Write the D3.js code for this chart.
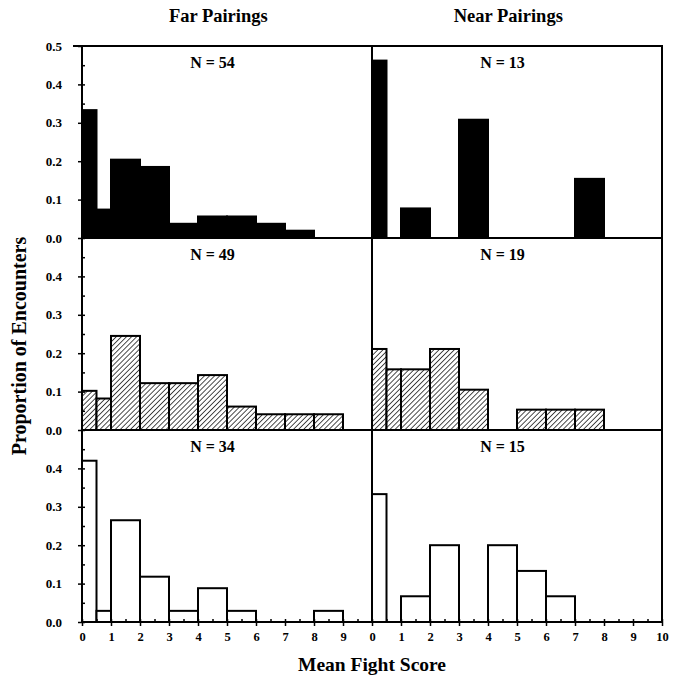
<!DOCTYPE html>
<html>
<head>
<meta charset="utf-8">
<script src="https://cdn.jsdelivr.net/npm/d3@7"></script>
<style>
  body { margin: 0; background: #fff; }
  svg text { font-family: "Liberation Serif", "Times New Roman", serif; font-weight: bold; fill: #000; }
  .axis path.domain { display: none; }
  .axis line { stroke: #000; stroke-width: 1.5; }
</style>
</head>
<body>
<div id="chart"></div>
<script>
// bin edges for Mean Fight Score (first unit split in halves)
const binEdges = [0, 0.5, 1, 2, 3, 4, 5, 6, 7, 8, 9, 10];

const columns = ["Far Pairings", "Near Pairings"];
const sampleSizes = [[54, 13], [49, 19], [34, 15]];

// proportion of encounters per bin
const farRow1  = [0.333, 0.074, 0.204, 0.185, 0.037, 0.056, 0.056, 0.037, 0.019, 0, 0];
const nearRow1 = [0.462, 0, 0.077, 0, 0.308, 0, 0, 0, 0.154, 0, 0];
const farRow2  = [0.102, 0.082, 0.245, 0.122, 0.122, 0.143, 0.061, 0.041, 0.041, 0.041, 0];
const nearRow2 = [0.211, 0.158, 0.158, 0.211, 0.105, 0, 0.053, 0.053, 0.053, 0, 0];
const farRow3  = [0.42, 0.029, 0.265, 0.118, 0.029, 0.088, 0.029, 0, 0, 0.029, 0];
const nearRow3 = [0.333, 0, 0.067, 0.2, 0, 0.2, 0.133, 0.067, 0, 0, 0];

const rowValues = [[farRow1, nearRow1], [farRow2, nearRow2], [farRow3, nearRow3]];
const rowFills = ["#000", "url(#hatch)", "#fff"];

const yTicksTop = [0, 0.1, 0.2, 0.3, 0.4, 0.5];
const yTicks = [0, 0.1, 0.2, 0.3, 0.4];
const xTicksFar = [0, 1, 2, 3, 4, 5, 6, 7, 8, 9];
const xTicksNear = [0, 1, 2, 3, 4, 5, 6, 7, 8, 9, 10];

const W = 676, H = 679;
const marginLeft = 82, marginTop = 46;
const panelW = 290, panelH = 192;

const svg = d3.select("#chart").append("svg")
    .attr("width", W)
    .attr("height", H);

const defs = svg.append("defs");
const pat = defs.append("pattern")
    .attr("id", "hatch")
    .attr("patternUnits", "userSpaceOnUse")
    .attr("width", 3.6)
    .attr("height", 3.6)
    .attr("patternTransform", "rotate(45)");
pat.append("rect").attr("width", 3.6).attr("height", 3.6).attr("fill", "#fff");
pat.append("line")
    .attr("x1", 0).attr("y1", 0).attr("x2", 0).attr("y2", 3.6)
    .attr("stroke", "#000").attr("stroke-width", 1.4);

const x = d3.scaleLinear().domain([0, 10]).range([0, panelW]);
const y = d3.scaleLinear().domain([0, 0.5]).range([panelH, 0]);

// column titles
columns.forEach((t, c) => {
    svg.append("text")
        .attr("x", marginLeft + c * panelW + x(4.7))
        .attr("y", 22)
        .attr("text-anchor", "middle")
        .style("font-size", "18.5px")
        .text(t);
});

rowValues.forEach((pair, r) => {
    pair.forEach((vals, c) => {
        const g = svg.append("g")
            .attr("transform", "translate(" + (marginLeft + c * panelW) + "," + (marginTop + r * panelH) + ")");

        const bins = vals.map((v, i) => ({ x0: binEdges[i], x1: binEdges[i + 1], v: v }))
            .filter(d => d.v > 0);

        g.selectAll("rect.bar")
            .data(bins)
            .enter().append("rect")
            .attr("class", "bar")
            .attr("x", d => x(d.x0))
            .attr("y", d => y(d.v))
            .attr("width", d => x(d.x1) - x(d.x0))
            .attr("height", d => y(0) - y(d.v))
            .attr("fill", rowFills[r])
            .attr("stroke", "#000")
            .attr("stroke-width", 2);

        g.append("text")
            .attr("x", x(4.5))
            .attr("y", 22)
            .attr("text-anchor", "middle")
            .style("font-size", "16px")
            .text("N = " + sampleSizes[r][c]);

        if (c === 0) {
            const majors = r === 0 ? yTicksTop : yTicks;
            g.append("g").attr("class", "axis")
                .call(d3.axisLeft(y).tickValues(majors).tickSize(4).tickPadding(16)
                    .tickFormat(d3.format(".1f")))
                .selectAll("text").style("font-size", "13px").attr("font-family", null);
            g.append("g").attr("class", "axis")
                .call(d3.axisLeft(y).tickValues(d3.range(0, 0.5, 0.05)).tickSize(-3).tickFormat(""));
        }

        if (r === 2) {
            const ticks = c === 0 ? xTicksFar : xTicksNear;
            const ax = g.append("g").attr("class", "axis")
                .attr("transform", "translate(0," + panelH + ")");
            ax.call(d3.axisBottom(x).tickValues(ticks).tickSize(4).tickPadding(6)
                .tickFormat(d3.format("d")))
                .selectAll("text").style("font-size", "12.5px").attr("font-family", null);
            g.append("g").attr("class", "axis")
                .attr("transform", "translate(0," + panelH + ")")
                .call(d3.axisBottom(x).tickValues(d3.range(0, 10.01, 0.5)).tickSize(-3).tickFormat(""));
        }
    });
});

// frame and dividers
const frame = svg.append("g")
    .attr("fill", "none")
    .attr("stroke", "#000")
    .attr("stroke-width", 2);
frame.append("rect")
    .attr("x", marginLeft).attr("y", marginTop)
    .attr("width", 2 * panelW).attr("height", 3 * panelH);
frame.append("line")
    .attr("x1", marginLeft - 9).attr("x2", marginLeft)
    .attr("y1", marginTop).attr("y2", marginTop);
frame.append("line")
    .attr("x1", marginLeft + panelW).attr("x2", marginLeft + panelW)
    .attr("y1", marginTop).attr("y2", marginTop + 3 * panelH);
[1, 2].forEach(r => {
    frame.append("line")
        .attr("x1", marginLeft).attr("x2", marginLeft + 2 * panelW)
        .attr("y1", marginTop + r * panelH).attr("y2", marginTop + r * panelH);
});

// axis titles
svg.append("text")
    .attr("transform", "translate(26," + 346 + ")rotate(-90)")
    .attr("text-anchor", "middle")
    .style("font-size", "20px")
    .text("Proportion of Encounters");

svg.append("text")
    .attr("x", marginLeft + panelW)
    .attr("y", 671)
    .attr("text-anchor", "middle")
    .style("font-size", "19.5px")
    .text("Mean Fight Score");
</script>
</body>
</html>
